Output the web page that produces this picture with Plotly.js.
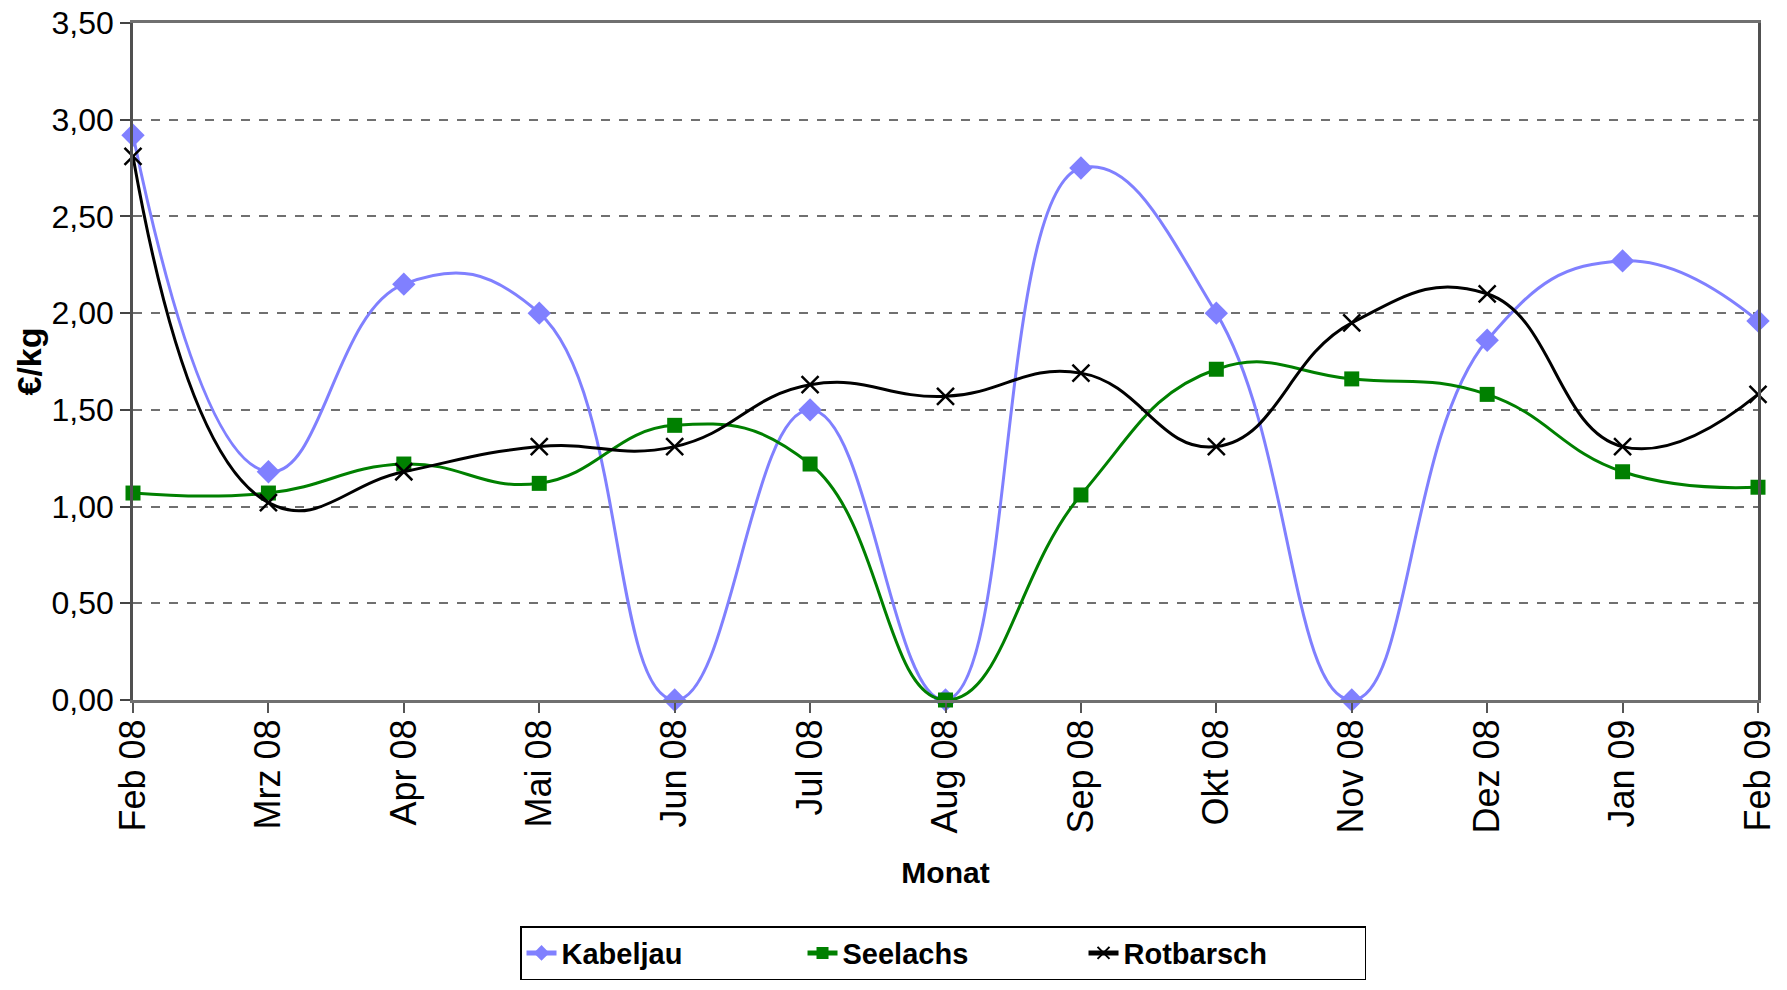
<!DOCTYPE html>
<html>
<head>
<meta charset="utf-8">
<script src="https://cdn.plot.ly/plotly-3.0.1.min.js"></script>
<style>
html,body{margin:0;padding:0;background:#fff;}
#chart{width:1787px;height:990px;}
</style>
</head>
<body>
<div id="chart"></div>
<script>
const months = ["Feb 08","Mrz 08","Apr 08","Mai 08","Jun 08","Jul 08","Aug 08","Sep 08","Okt 08","Nov 08","Dez 08","Jan 09","Feb 09"];
const kabeljau = [2.92,1.18,2.15,2.00,0.00,1.50,0.00,2.75,2.00,0.00,1.86,2.27,1.96];
const seelachs = [1.07,1.07,1.22,1.12,1.42,1.22,0.00,1.06,1.71,1.66,1.58,1.18,1.10];
const rotbarsch = [2.81,1.02,1.18,1.31,1.31,1.63,1.57,1.69,1.31,1.95,2.10,1.31,1.58];
const yTicks = [0,0.5,1,1.5,2,2.5,3,3.5];

const FONT = '"Liberation Sans",Arial,sans-serif';

const traces = [
  {name:"Kabeljau", x:months, y:kabeljau, type:"scatter", mode:"lines+markers",
   line:{color:"#8080FF", width:3, shape:"spline", smoothing:1.3},
   marker:{symbol:"diamond", size:18, color:"#8080FF"}, cliponaxis:false},
  {name:"Seelachs", x:months, y:seelachs, type:"scatter", mode:"lines+markers",
   line:{color:"#008000", width:3, shape:"spline", smoothing:1.3},
   marker:{symbol:"square", size:15, color:"#008000"}, cliponaxis:false},
  {name:"Rotbarsch", x:months, y:rotbarsch, type:"scatter", mode:"lines+markers",
   line:{color:"#000000", width:3, shape:"spline", smoothing:1.3},
   marker:{symbol:"x-thin", size:17, color:"#000000", line:{color:"#000000", width:2.5}}, cliponaxis:false}
];

const layout = {
  width:1787, height:990,
  margin:{l:133, r:29, t:23, b:290},
  paper_bgcolor:"#fff", plot_bgcolor:"#fff",
  separators:",.",
  font:{family:FONT, color:"#000"},
  showlegend:true,
  xaxis:{
    type:"category", range:[0,12], tickangle:-90, automargin:false,
    tickfont:{family:FONT, size:36, color:"#000"},
    ticks:"outside", ticklen:10, tickwidth:1.5, tickcolor:"#555",
    ticklabelstandoff:-8,
    showline:true, linecolor:"#707070", linewidth:3, mirror:true,
    showgrid:false, zeroline:false,
    title:{text:"Monat", font:{family:FONT, size:30, color:"#000", weight:"bold"}, standoff:30}
  },
  yaxis:{
    range:[0,3.5], tickvals:yTicks, tickformat:".2f", automargin:false,
    tickfont:{family:FONT, size:32, color:"#000"},
    ticks:"outside", ticklen:10, tickwidth:1.5, tickcolor:"#444",
    showline:true, linecolor:"#505050", linewidth:2.5, mirror:true,
    showgrid:true, gridcolor:"#707070", gridwidth:1.5, griddash:"dash",
    zeroline:false,
    title:{text:"€/kg", font:{family:FONT, size:34, color:"#000", weight:"bold"}, standoff:0}
  },
  legend:{
    orientation:"h", xref:"container", yref:"container",
    x:0.291, xanchor:"left", y:0.0646, yanchor:"top",
    bordercolor:"#000", borderwidth:1.5, bgcolor:"#fff",
    font:{family:FONT, size:29, color:"#000", weight:"bold"},
    entrywidth:236, entrywidthmode:"pixels",
    itemsizing:"constant"
  }
};

Plotly.newPlot("chart", traces, layout, {displayModeBar:false, responsive:false});
</script>
</body>
</html>
